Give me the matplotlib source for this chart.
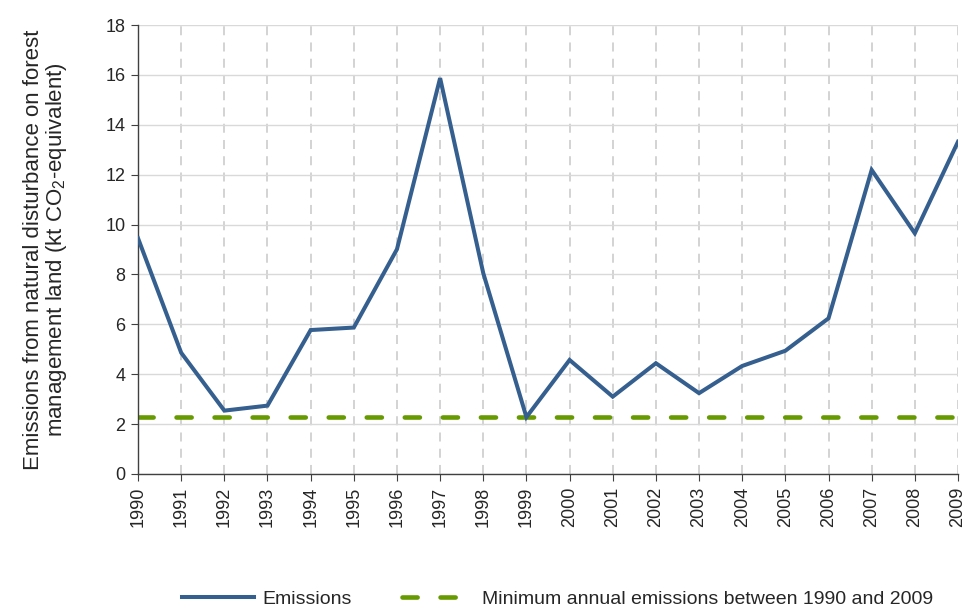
import matplotlib
matplotlib.use("Agg")
import matplotlib.pyplot as plt
import numpy as np

plt.rcParams['font.family'] = ['Liberation Sans', 'DejaVu Sans']
plt.rcParams['mathtext.default'] = 'regular'

# Emissions per year (kt CO2-eq)
years = list(range(1990, 2010))
emissions = [9.45, 4.86, 2.54, 2.74, 5.77, 5.87, 9.01, 15.87, 8.05, 2.28,
             4.57, 3.10, 4.44, 3.24, 4.33, 4.94, 6.24, 12.19, 9.65, 13.32]
min_emission = min(emissions)

blue = '#355f8e'
green = '#669a00'
txt = '#262626'

fig = plt.figure(figsize=(9.7, 6.13), dpi=100)
ax = fig.add_axes([0.1423, 0.2268, 0.8453, 0.7324])

ax.plot(years, emissions, color=blue, lw=2.9, solid_joinstyle='miter', zorder=3,
        label='Emissions')
ax.plot(years, [min_emission] * len(years), color=green, lw=3.3,
        dashes=(3.3, 5.0), dash_capstyle='round', zorder=2,
        label='Minimum annual emissions between 1990 and 2009')

ax.set_xlim(1990, 2009)
ax.set_ylim(0, 18)
ax.set_yticks(np.arange(0, 19, 2))
ax.set_xticks(years)
ax.set_xticklabels([str(y) for y in years], rotation=90)

# grid: solid horizontal, dashed vertical
ax.yaxis.grid(True, color='#d9d9d9', lw=1.0, ls='-')
ax.xaxis.grid(True, color='#d0d0d0', lw=1.3, ls=(0, (5, 4)))
ax.set_axisbelow(True)

for s in ['top', 'right']:
    ax.spines[s].set_visible(False)
for s in ['left', 'bottom']:
    ax.spines[s].set_color('#404040')
    ax.spines[s].set_linewidth(1.0)

ax.tick_params(axis='both', colors='#404040', labelcolor=txt, labelsize=13,
               length=5, direction='out', pad=4)

ax.set_ylabel('Emissions from natural disturbance on forest\n'
              'management land (kt CO$_2$-equivalent)',
              fontsize=16, color=txt, labelpad=26, linespacing=1.0)

leg = fig.legend(loc='lower center', bbox_to_anchor=(0.575, -0.02), ncol=2,
                 frameon=False, fontsize=14, handlelength=3.7,
                 columnspacing=2.6, handletextpad=0.4)
for t in leg.get_texts():
    t.set_color(txt)

fig.savefig('out.png', dpi=100)
